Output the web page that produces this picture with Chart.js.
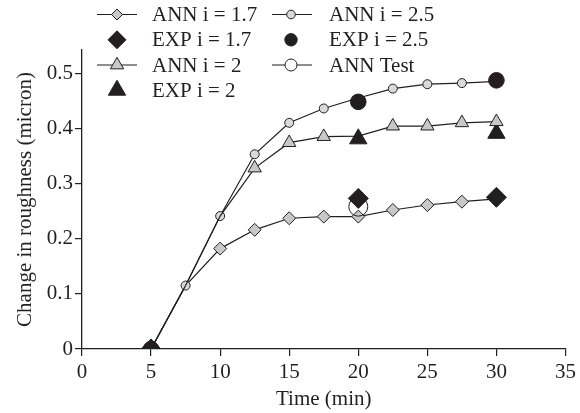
<!DOCTYPE html>
<html>
<head>
<meta charset="utf-8">
<script src="https://cdn.jsdelivr.net/npm/chart.js@4"></script>
<style>
  html, body { margin: 0; padding: 0; background: #ffffff; }
  #wrap { width: 580px; height: 413px; position: relative; }
</style>
</head>
<body>
<div id="wrap"><canvas id="c" width="580" height="413"></canvas></div>
<script>
// Time axis (min) shared by the ANN curves
const times = [5, 7.5, 10, 12.5, 15, 17.5, 20, 22.5, 25, 27.5, 30];
// ANN predictions for each current ratio i
const ann17 = [0, 0.115, 0.182, 0.216, 0.237, 0.240, 0.240, 0.252, 0.261, 0.267, 0.272];
const ann20 = [0, 0.115, 0.241, 0.328, 0.374, 0.385, 0.386, 0.404, 0.404, 0.410, 0.412];
const ann25 = [0, 0.115, 0.241, 0.353, 0.410, 0.436, 0.455, 0.472, 0.480, 0.482, 0.485];
// Experimental measurements
const expTimes = [5, 20, 30];
const exp17 = [0, 0.273, 0.275];
const exp20 = [0, 0.381, 0.391];
const exp25 = [0, 0.448, 0.487];
// ANN test point
const testTimes = [20];
const testVals = [0.258];
// Axis ticks
const xTicks = [0, 5, 10, 15, 20, 25, 30, 35];
const yTicks = [0, 0.1, 0.2, 0.3, 0.4, 0.5];

const INK = '#231f20';
const FONT = '"Liberation Serif", "Times New Roman", serif';
const FS = 21;

const pts = (xs, ys) => xs.map((x, i) => ({ x: x, y: ys[i] }));

// cover: series whose markers sit over this curve's markers where they coincide
const series = [
  { label: 'ANN i = 1.7', data: pts(times, ann17), line: true,  style: 'rectRot',  r: 6.5, fill: '#c8c8c8', order: 7, lr: 5.5, cover: [1, 4] },
  { label: 'EXP i = 1.7', data: pts(expTimes, exp17), line: false, style: 'rectRot', r: 10, fill: INK, order: 1, lr: 9 },
  { label: 'ANN i = 2',   data: pts(times, ann20), line: true,  style: 'triangle', r: 7.7, fill: '#c8c8c8', order: 3, lr: 7.7, cover: [3, 4] },
  { label: 'EXP i = 2',   data: pts(expTimes, exp20), line: false, style: 'triangle', r: 10, fill: INK, order: 4, lr: 10 },
  { label: 'ANN i = 2.5', data: pts(times, ann25), line: true,  style: 'circle',   r: 4.5, fill: '#d9d9d9', order: 6, lr: 4.3, cover: [5] },
  { label: 'EXP i = 2.5', data: pts(expTimes, exp25), line: false, style: 'circle', r: 7.8, fill: INK, order: 5, lr: 6.2 },
  { label: 'ANN Test',    data: pts(testTimes, testVals), line: true, style: 'circle', r: 9.5, fill: 'rgba(255,255,255,0)', order: 2, lr: 6, legendFill: '#ffffff' }
];

// An ANN marker is left out where another listed curve has a point at the same spot
function coincides(s, p) {
  if (!s.cover) return false;
  return s.cover.some(j => series[j].data.some(q => q.x === p.x && Math.abs(q.y - p.y) < 0.012));
}

const datasets = series.map(s => ({
  label: s.label,
  data: s.data,
  order: s.order,
  showLine: s.line,
  borderColor: INK,
  borderWidth: 1.2,
  backgroundColor: s.fill,
  pointStyle: s.style,
  pointRadius: ctx => (ctx.raw && coincides(s, ctx.raw)) ? 0 : s.r,
  pointHoverRadius: s.r,
  pointBackgroundColor: s.fill,
  pointBorderColor: INK,
  pointBorderWidth: 1,
  tension: 0,
  fill: false
}));

// Marker shapes, same geometry as Chart.js point styles
function marker(ctx, style, x, y, r) {
  ctx.beginPath();
  if (style === 'circle') {
    ctx.arc(x, y, r, 0, Math.PI * 2);
  } else if (style === 'rectRot') {
    ctx.moveTo(x - r, y); ctx.lineTo(x, y - r); ctx.lineTo(x + r, y); ctx.lineTo(x, y + r);
    ctx.closePath();
  } else if (style === 'triangle') {
    let a = 0;
    ctx.moveTo(x + Math.sin(a) * r, y - Math.cos(a) * r);
    a += 2 * Math.PI / 3;
    ctx.lineTo(x + Math.sin(a) * r, y - Math.cos(a) * r);
    a += 2 * Math.PI / 3;
    ctx.lineTo(x + Math.sin(a) * r, y - Math.cos(a) * r);
    ctx.closePath();
  }
  ctx.fill();
  ctx.stroke();
}

// Two-column legend: a line with a marker for ANN series, a bare marker for EXP
const legendPlugin = {
  id: 'pairLegend',
  afterDraw(chart) {
    const ctx = chart.ctx;
    const rows = [14.5, 39.8, 65, 90.2];
    const cols = [
      { items: [0, 1, 2, 3], x0: 97, x1: 137, mx: 117, tx: 152 },
      { items: [4, 5, 6],    x0: 272, x1: 312, mx: 291, tx: 329 }
    ];
    ctx.save();
    ctx.font = FS + 'px ' + FONT;
    ctx.textBaseline = 'middle';
    ctx.textAlign = 'left';
    cols.forEach(col => {
      col.items.forEach((idx, row) => {
        const s = series[idx];
        const y = rows[row];
        ctx.strokeStyle = INK;
        ctx.lineWidth = 1.2;
        if (s.line) {
          ctx.beginPath();
          ctx.moveTo(col.x0, y);
          ctx.lineTo(col.x1, y);
          ctx.stroke();
        }
        ctx.lineWidth = 1;
        ctx.fillStyle = s.legendFill || s.fill;
        marker(ctx, s.style, col.mx, y, s.lr);
        ctx.fillStyle = INK;
        ctx.fillText(s.label, col.tx, y + 1);
      });
    });
    ctx.restore();
  }
};

new Chart(document.getElementById('c'), {
  type: 'scatter',
  data: { datasets: datasets },
  plugins: [legendPlugin],
  options: {
    responsive: false,
    animation: false,
    devicePixelRatio: 1,
    layout: { padding: { top: 50, right: 14, left: 0, bottom: 0 } },
    plugins: { legend: { display: false }, tooltip: { enabled: false } },
    scales: {
      x: {
        type: 'linear',
        min: 0, max: 35,
        afterFit(scale) { scale.height = 64; },
        afterBuildTicks(scale) { scale.ticks = xTicks.map(v => ({ value: v })); },
        ticks: { color: INK, font: { family: FONT, size: FS }, padding: 4, maxRotation: 0, autoSkip: false },
        grid: { display: true, drawOnChartArea: false, drawTicks: true, tickLength: 7, color: INK, lineWidth: 1.2 },
        border: { display: true, color: INK, width: 1.3 },
        title: { display: true, text: 'Time (min)', color: INK, font: { family: FONT, size: FS }, padding: { top: 0, bottom: 1 } }
      },
      y: {
        type: 'linear',
        min: 0, max: 0.542,
        afterFit(scale) { scale.width = 82; },
        afterBuildTicks(scale) { scale.ticks = yTicks.map(v => ({ value: v })); },
        ticks: { color: INK, font: { family: FONT, size: FS }, padding: 2, autoSkip: false,
                 callback: v => (Math.round(v * 10) / 10).toString() },
        grid: { display: true, drawOnChartArea: false, drawTicks: true, tickLength: 7, color: INK, lineWidth: 1.2 },
        border: { display: true, color: INK, width: 1.3 },
        title: { display: true, text: 'Change in roughness (micron)', color: INK, font: { family: FONT, size: FS }, padding: { top: 13, bottom: 0 } }
      }
    }
  }
});
</script>
</body>
</html>
